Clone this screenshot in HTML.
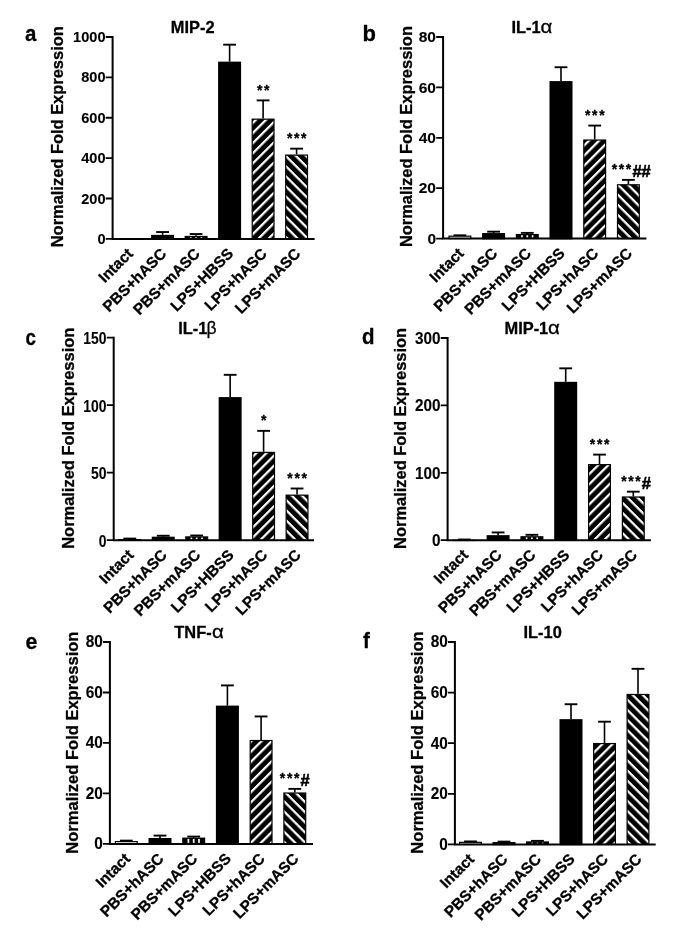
<!DOCTYPE html>
<html lang="en"><head><meta charset="utf-8"><title>Figure</title>
<style>html,body{margin:0;padding:0;background:#fff}svg{display:block}text{stroke:#000;stroke-width:.3px;stroke-linejoin:round}.t{stroke-width:.1px}.h{stroke-width:.6px}</style>
</head><body>
<svg width="685" height="944" viewBox="0 0 685 944" font-family='"Liberation Sans", sans-serif' font-weight="bold" fill="#000">
<defs>
<pattern id="hf" width="7.15" height="7.15" patternUnits="userSpaceOnUse" patternTransform="rotate(-45)"><rect width="7.15" height="7.15" fill="#000"/><rect y="0" width="7.15" height="2.25" fill="#fff"/></pattern>
<pattern id="hb" width="7.15" height="7.15" patternUnits="userSpaceOnUse" patternTransform="rotate(45)"><rect width="7.15" height="7.15" fill="#000"/><rect y="0" width="7.15" height="2.25" fill="#fff"/></pattern>
</defs>
<rect width="685" height="944" fill="#fff"/>
<g>
<text transform="translate(25 41) scale(0.93 1.04)" font-size="22">a</text>
<text x="170.8" y="32.6" font-size="16.4">MIP-2</text>
<text transform="translate(63.4 136.75) rotate(-90)" font-size="16.45" text-anchor="middle">Normalized Fold Expression</text>
<path d="M162.6 234.86V232.04" stroke="#000" stroke-width="1.6" fill="none"/><path d="M156.2 232.04H169" stroke="#000" stroke-width="1.9" fill="none"/>
<rect x="151.85" y="235.61" width="21.5" height="3.29" fill="#000" stroke="#000" stroke-width="1.5"/>
<path d="M196.1 235.87V234.05" stroke="#000" stroke-width="1.6" fill="none"/><path d="M189.7 234.05H202.5" stroke="#000" stroke-width="1.9" fill="none"/>
<rect x="184.6" y="235.87" width="23" height="3.03" fill="#000"/>
<rect x="189.95" y="237.17" width="1.7" height="0.73" fill="#fff"/>
<rect x="195.25" y="237.17" width="1.7" height="0.73" fill="#fff"/>
<rect x="200.55" y="237.17" width="1.7" height="0.73" fill="#fff"/>
<path d="M229.6 61.63V44.67" stroke="#000" stroke-width="1.6" fill="none"/><path d="M223.2 44.67H236" stroke="#000" stroke-width="1.9" fill="none"/>
<rect x="218.85" y="62.38" width="21.5" height="176.52" fill="#000" stroke="#000" stroke-width="1.5"/>
<path d="M263.1 118.57V100.4" stroke="#000" stroke-width="1.6" fill="none"/><path d="M256.7 100.4H269.5" stroke="#000" stroke-width="1.9" fill="none"/>
<rect x="252.2" y="119.17" width="21.8" height="119.73" fill="url(#hf)" stroke="#000" stroke-width="1.2"/>
<path d="M296.6 154.51V148.65" stroke="#000" stroke-width="1.6" fill="none"/><path d="M290.2 148.65H303" stroke="#000" stroke-width="1.9" fill="none"/>
<rect x="285.7" y="155.11" width="21.8" height="83.79" fill="url(#hb)" stroke="#000" stroke-width="1.2"/>
<text x="256.95" y="95" font-size="14" letter-spacing="1.65">**</text>
<text x="286.9" y="143.25" font-size="14" letter-spacing="1.65">***</text>
<path d="M112.6 37V238.9H313.6" stroke="#000" stroke-width="2" fill="none" stroke-linecap="square"/>
<text class="t" transform="translate(105.5 244) scale(0.94 1)" font-size="15.5" text-anchor="end">0</text>
<text class="t" transform="translate(105.5 203.62) scale(0.94 1)" font-size="15.5" text-anchor="end">200</text>
<text class="t" transform="translate(105.5 163.24) scale(0.94 1)" font-size="15.5" text-anchor="end">400</text>
<text class="t" transform="translate(105.5 122.86) scale(0.94 1)" font-size="15.5" text-anchor="end">600</text>
<text class="t" transform="translate(105.5 82.48) scale(0.94 1)" font-size="15.5" text-anchor="end">800</text>
<text class="t" transform="translate(105.5 42.1) scale(0.94 1)" font-size="15.5" text-anchor="end">1000</text>
<path d="M112.6 238.9H105.7M112.6 198.52H105.7M112.6 158.14H105.7M112.6 117.76H105.7M112.6 77.38H105.7M112.6 37H105.7" stroke="#000" stroke-width="1.8" fill="none"/>
<text transform="translate(133.8 254.6) rotate(-45)" font-size="15.35" text-anchor="end">Intact</text>
<text transform="translate(167.3 254.6) rotate(-45)" font-size="15.35" text-anchor="end">PBS+hASC</text>
<text transform="translate(200.8 254.6) rotate(-45)" font-size="15.35" text-anchor="end">PBS+mASC</text>
<text transform="translate(234.3 254.6) rotate(-45)" font-size="15.35" text-anchor="end">LPS+HBSS</text>
<text transform="translate(267.8 254.6) rotate(-45)" font-size="15.35" text-anchor="end">LPS+hASC</text>
<text transform="translate(301.3 254.6) rotate(-45)" font-size="15.35" text-anchor="end">LPS+mASC</text>
</g>
<g>
<text transform="translate(362.4 40.8) scale(1.0 1.04)" font-size="22">b</text>
<text x="511.5" y="32.6" font-size="16.4">IL-1</text>
<text transform="translate(540.5 32.6) scale(1.17 1)" font-weight="normal" font-size="17.5">α</text>
<text transform="translate(411.7 136.6) rotate(-90)" font-size="16.45" text-anchor="middle">Normalized Fold Expression</text>
<path d="M459.9 235.58V235.32" stroke="#000" stroke-width="1.6" fill="none"/><path d="M453.5 235.32H466.3" stroke="#000" stroke-width="1.9" fill="none"/>
<rect x="449" y="236.18" width="21.8" height="2.42" fill="#fff" stroke="#000" stroke-width="1.2"/>
<path d="M493.6 233.06V231.67" stroke="#000" stroke-width="1.6" fill="none"/><path d="M487.2 231.67H500" stroke="#000" stroke-width="1.9" fill="none"/>
<rect x="482.85" y="233.81" width="21.5" height="4.79" fill="#000" stroke="#000" stroke-width="1.5"/>
<path d="M527.3 233.94V232.88" stroke="#000" stroke-width="1.6" fill="none"/><path d="M520.9 232.88H533.7" stroke="#000" stroke-width="1.9" fill="none"/>
<rect x="515.8" y="233.94" width="23" height="4.66" fill="#000"/>
<rect x="521.15" y="235.24" width="1.7" height="2.36" fill="#fff"/>
<rect x="526.45" y="235.24" width="1.7" height="2.36" fill="#fff"/>
<rect x="531.75" y="235.24" width="1.7" height="2.36" fill="#fff"/>
<path d="M561 81.1V67.24" stroke="#000" stroke-width="1.6" fill="none"/><path d="M554.6 67.24H567.4" stroke="#000" stroke-width="1.9" fill="none"/>
<rect x="550.25" y="81.85" width="21.5" height="156.75" fill="#000" stroke="#000" stroke-width="1.5"/>
<path d="M594.7 139.44V125.58" stroke="#000" stroke-width="1.6" fill="none"/><path d="M588.3 125.58H601.1" stroke="#000" stroke-width="1.9" fill="none"/>
<rect x="583.8" y="140.04" width="21.8" height="98.56" fill="url(#hf)" stroke="#000" stroke-width="1.2"/>
<path d="M628.4 184.17V179.88" stroke="#000" stroke-width="1.6" fill="none"/><path d="M622 179.88H634.8" stroke="#000" stroke-width="1.9" fill="none"/>
<rect x="617.5" y="184.77" width="21.8" height="53.83" fill="url(#hb)" stroke="#000" stroke-width="1.2"/>
<text x="585" y="120.18" font-size="14" letter-spacing="1.65">***</text>
<text x="611.68" y="174.28" font-size="14" letter-spacing="1.65">***</text>
<text class="h" x="632.38" y="177.38" font-size="16.5">##</text>
<path d="M443.1 37V238.6H645.4" stroke="#000" stroke-width="2" fill="none" stroke-linecap="square"/>
<text class="t" transform="translate(436 243.7) scale(1.0 1)" font-size="15.5" text-anchor="end">0</text>
<text class="t" transform="translate(436 193.3) scale(1.0 1)" font-size="15.5" text-anchor="end">20</text>
<text class="t" transform="translate(436 142.9) scale(1.0 1)" font-size="15.5" text-anchor="end">40</text>
<text class="t" transform="translate(436 92.5) scale(1.0 1)" font-size="15.5" text-anchor="end">60</text>
<text class="t" transform="translate(436 42.1) scale(1.0 1)" font-size="15.5" text-anchor="end">80</text>
<path d="M443.1 238.6H436.2M443.1 188.2H436.2M443.1 137.8H436.2M443.1 87.4H436.2M443.1 37H436.2" stroke="#000" stroke-width="1.8" fill="none"/>
<text transform="translate(464.6 254.3) rotate(-45)" font-size="15.35" text-anchor="end">Intact</text>
<text transform="translate(498.3 254.3) rotate(-45)" font-size="15.35" text-anchor="end">PBS+hASC</text>
<text transform="translate(532 254.3) rotate(-45)" font-size="15.35" text-anchor="end">PBS+mASC</text>
<text transform="translate(565.7 254.3) rotate(-45)" font-size="15.35" text-anchor="end">LPS+HBSS</text>
<text transform="translate(599.4 254.3) rotate(-45)" font-size="15.35" text-anchor="end">LPS+hASC</text>
<text transform="translate(633.1 254.3) rotate(-45)" font-size="15.35" text-anchor="end">LPS+mASC</text>
</g>
<g>
<text transform="translate(25.6 344.6) scale(0.85 1.04)" font-size="22">c</text>
<text x="178.2" y="334" font-size="16.4">IL-1</text>
<text x="206.6" y="334" font-weight="normal" font-size="17.5">β</text>
<text transform="translate(74.2 438.25) rotate(-90)" font-size="16.45" text-anchor="middle">Normalized Fold Expression</text>
<path d="M129.8 538.99V538.58" stroke="#000" stroke-width="1.6" fill="none"/><path d="M123.4 538.58H136.2" stroke="#000" stroke-width="1.9" fill="none"/>
<rect x="118.9" y="539.59" width="21.8" height="0.62" fill="#fff" stroke="#000" stroke-width="1.2"/>
<path d="M163.25 536.69V535.75" stroke="#000" stroke-width="1.6" fill="none"/><path d="M156.85 535.75H169.65" stroke="#000" stroke-width="1.9" fill="none"/>
<rect x="152.5" y="537.44" width="21.5" height="2.76" fill="#000" stroke="#000" stroke-width="1.5"/>
<path d="M196.7 536.29V535.48" stroke="#000" stroke-width="1.6" fill="none"/><path d="M190.3 535.48H203.1" stroke="#000" stroke-width="1.9" fill="none"/>
<rect x="185.2" y="536.29" width="23" height="3.91" fill="#000"/>
<rect x="190.55" y="537.59" width="1.7" height="1.62" fill="#fff"/>
<rect x="195.85" y="537.59" width="1.7" height="1.62" fill="#fff"/>
<rect x="201.15" y="537.59" width="1.7" height="1.62" fill="#fff"/>
<path d="M230.15 397.1V374.83" stroke="#000" stroke-width="1.6" fill="none"/><path d="M223.75 374.83H236.55" stroke="#000" stroke-width="1.9" fill="none"/>
<rect x="219.4" y="397.85" width="21.5" height="142.35" fill="#000" stroke="#000" stroke-width="1.5"/>
<path d="M263.6 451.78V430.85" stroke="#000" stroke-width="1.6" fill="none"/><path d="M257.2 430.85H270" stroke="#000" stroke-width="1.9" fill="none"/>
<rect x="252.7" y="452.38" width="21.8" height="87.83" fill="url(#hf)" stroke="#000" stroke-width="1.2"/>
<path d="M297.05 494.57V488.5" stroke="#000" stroke-width="1.6" fill="none"/><path d="M290.65 488.5H303.45" stroke="#000" stroke-width="1.9" fill="none"/>
<rect x="286.15" y="495.17" width="21.8" height="45.03" fill="url(#hb)" stroke="#000" stroke-width="1.2"/>
<text x="261" y="425.45" font-size="14" letter-spacing="1.65">*</text>
<text x="287.35" y="483.1" font-size="14" letter-spacing="1.65">***</text>
<path d="M113.7 337.7V540.2H313" stroke="#000" stroke-width="2" fill="none" stroke-linecap="square"/>
<text class="t" transform="translate(106.6 546.6) scale(0.85 1)" font-size="16.4" text-anchor="end">0</text>
<text class="t" transform="translate(106.6 479.1) scale(0.85 1)" font-size="16.4" text-anchor="end">50</text>
<text class="t" transform="translate(106.6 411.6) scale(0.85 1)" font-size="16.4" text-anchor="end">100</text>
<text class="t" transform="translate(106.6 344.1) scale(0.85 1)" font-size="16.4" text-anchor="end">150</text>
<path d="M113.7 540.2H106.8M113.7 472.7H106.8M113.7 405.2H106.8M113.7 337.7H106.8" stroke="#000" stroke-width="1.8" fill="none"/>
<text transform="translate(134.5 555.9) rotate(-45)" font-size="15.35" text-anchor="end">Intact</text>
<text transform="translate(167.95 555.9) rotate(-45)" font-size="15.35" text-anchor="end">PBS+hASC</text>
<text transform="translate(201.4 555.9) rotate(-45)" font-size="15.35" text-anchor="end">PBS+mASC</text>
<text transform="translate(234.85 555.9) rotate(-45)" font-size="15.35" text-anchor="end">LPS+HBSS</text>
<text transform="translate(268.3 555.9) rotate(-45)" font-size="15.35" text-anchor="end">LPS+hASC</text>
<text transform="translate(301.75 555.9) rotate(-45)" font-size="15.35" text-anchor="end">LPS+mASC</text>
</g>
<g>
<text transform="translate(361.9 344.1) scale(0.93 1.04)" font-size="22">d</text>
<text x="504.5" y="334" font-size="16.4">MIP-1</text>
<text transform="translate(548 334) scale(1.17 1)" font-weight="normal" font-size="17.5">α</text>
<text transform="translate(406.4 438.4) rotate(-90)" font-size="16.45" text-anchor="middle">Normalized Fold Expression</text>
<path d="M464.3 539.8V539.53" stroke="#000" stroke-width="1.6" fill="none"/><path d="M457.9 539.53H470.7" stroke="#000" stroke-width="1.9" fill="none"/>
<rect x="453.4" y="540.4" width="21.8" height="0.1" fill="#fff" stroke="#000" stroke-width="1.2"/>
<path d="M498.1 535.15V532.45" stroke="#000" stroke-width="1.6" fill="none"/><path d="M491.7 532.45H504.5" stroke="#000" stroke-width="1.9" fill="none"/>
<rect x="487.35" y="535.9" width="21.5" height="4.3" fill="#000" stroke="#000" stroke-width="1.5"/>
<path d="M531.9 536.16V534.81" stroke="#000" stroke-width="1.6" fill="none"/><path d="M525.5 534.81H538.3" stroke="#000" stroke-width="1.9" fill="none"/>
<rect x="520.4" y="536.16" width="23" height="4.04" fill="#000"/>
<rect x="525.75" y="537.46" width="1.7" height="1.74" fill="#fff"/>
<rect x="531.05" y="537.46" width="1.7" height="1.74" fill="#fff"/>
<rect x="536.35" y="537.46" width="1.7" height="1.74" fill="#fff"/>
<path d="M565.7 381.81V368.33" stroke="#000" stroke-width="1.6" fill="none"/><path d="M559.3 368.33H572.1" stroke="#000" stroke-width="1.9" fill="none"/>
<rect x="554.95" y="382.56" width="21.5" height="157.64" fill="#000" stroke="#000" stroke-width="1.5"/>
<path d="M599.5 464.04V454.6" stroke="#000" stroke-width="1.6" fill="none"/><path d="M593.1 454.6H605.9" stroke="#000" stroke-width="1.9" fill="none"/>
<rect x="588.6" y="464.64" width="21.8" height="75.56" fill="url(#hf)" stroke="#000" stroke-width="1.2"/>
<path d="M633.3 496.39V491.67" stroke="#000" stroke-width="1.6" fill="none"/><path d="M626.9 491.67H639.7" stroke="#000" stroke-width="1.9" fill="none"/>
<rect x="622.4" y="496.99" width="21.8" height="43.21" fill="url(#hb)" stroke="#000" stroke-width="1.2"/>
<text x="589.8" y="449.2" font-size="14" letter-spacing="1.65">***</text>
<text x="621.16" y="486.07" font-size="14" letter-spacing="1.65">***</text>
<text class="h" x="641.86" y="489.17" font-size="16.5">#</text>
<path d="M447.6 338V540.2H649.9" stroke="#000" stroke-width="2" fill="none" stroke-linecap="square"/>
<text class="t" transform="translate(440.5 545.9) scale(0.935 1)" font-size="16.4" text-anchor="end">0</text>
<text class="t" transform="translate(440.5 478.5) scale(0.935 1)" font-size="16.4" text-anchor="end">100</text>
<text class="t" transform="translate(440.5 411.1) scale(0.935 1)" font-size="16.4" text-anchor="end">200</text>
<text class="t" transform="translate(440.5 343.7) scale(0.935 1)" font-size="16.4" text-anchor="end">300</text>
<path d="M447.6 540.2H440.7M447.6 472.8H440.7M447.6 405.4H440.7M447.6 338H440.7" stroke="#000" stroke-width="1.8" fill="none"/>
<text transform="translate(469 555.9) rotate(-45)" font-size="15.35" text-anchor="end">Intact</text>
<text transform="translate(502.8 555.9) rotate(-45)" font-size="15.35" text-anchor="end">PBS+hASC</text>
<text transform="translate(536.6 555.9) rotate(-45)" font-size="15.35" text-anchor="end">PBS+mASC</text>
<text transform="translate(570.4 555.9) rotate(-45)" font-size="15.35" text-anchor="end">LPS+HBSS</text>
<text transform="translate(604.2 555.9) rotate(-45)" font-size="15.35" text-anchor="end">LPS+hASC</text>
<text transform="translate(638 555.9) rotate(-45)" font-size="15.35" text-anchor="end">LPS+mASC</text>
</g>
<g>
<text transform="translate(25.5 648.9) scale(0.97 1.04)" font-size="22">e</text>
<text x="174.3" y="638" font-size="16.4">TNF-</text>
<text transform="translate(211.9 638) scale(1.17 1)" font-weight="normal" font-size="17.5">α</text>
<text transform="translate(77.5 742.6) rotate(-90)" font-size="16.53" text-anchor="middle">Normalized Fold Expression</text>
<path d="M126.3 841V840.62" stroke="#000" stroke-width="1.6" fill="none"/><path d="M119.9 840.62H132.7" stroke="#000" stroke-width="1.9" fill="none"/>
<rect x="115.4" y="841.6" width="21.8" height="2.3" fill="#fff" stroke="#000" stroke-width="1.2"/>
<path d="M160 837.97V835.57" stroke="#000" stroke-width="1.6" fill="none"/><path d="M153.6 835.57H166.4" stroke="#000" stroke-width="1.9" fill="none"/>
<rect x="149.25" y="838.72" width="21.5" height="5.18" fill="#000" stroke="#000" stroke-width="1.5"/>
<path d="M193.7 837.59V836.58" stroke="#000" stroke-width="1.6" fill="none"/><path d="M187.3 836.58H200.1" stroke="#000" stroke-width="1.9" fill="none"/>
<rect x="182.2" y="837.59" width="23" height="6.31" fill="#000"/>
<rect x="187.55" y="838.89" width="1.7" height="4.01" fill="#fff"/>
<rect x="192.85" y="838.89" width="1.7" height="4.01" fill="#fff"/>
<rect x="198.15" y="838.89" width="1.7" height="4.01" fill="#fff"/>
<path d="M227.4 705.6V685.41" stroke="#000" stroke-width="1.6" fill="none"/><path d="M221 685.41H233.8" stroke="#000" stroke-width="1.9" fill="none"/>
<rect x="216.65" y="706.35" width="21.5" height="137.55" fill="#000" stroke="#000" stroke-width="1.5"/>
<path d="M261.1 739.92V716.45" stroke="#000" stroke-width="1.6" fill="none"/><path d="M254.7 716.45H267.5" stroke="#000" stroke-width="1.9" fill="none"/>
<rect x="250.2" y="740.52" width="21.8" height="103.38" fill="url(#hf)" stroke="#000" stroke-width="1.2"/>
<path d="M294.8 792.42V788.88" stroke="#000" stroke-width="1.6" fill="none"/><path d="M288.4 788.88H301.2" stroke="#000" stroke-width="1.9" fill="none"/>
<rect x="283.9" y="793.02" width="21.8" height="50.88" fill="url(#hb)" stroke="#000" stroke-width="1.2"/>
<text x="279.86" y="783.28" font-size="14" letter-spacing="1.65">***</text>
<text class="h" x="300.56" y="786.38" font-size="16.5">#</text>
<path d="M109.9 642V843.9H312" stroke="#000" stroke-width="2" fill="none" stroke-linecap="square"/>
<text class="t" transform="translate(102.8 849.2) scale(0.97 1)" font-size="15.9" text-anchor="end">0</text>
<text class="t" transform="translate(102.8 798.72) scale(0.97 1)" font-size="15.9" text-anchor="end">20</text>
<text class="t" transform="translate(102.8 748.25) scale(0.97 1)" font-size="15.9" text-anchor="end">40</text>
<text class="t" transform="translate(102.8 697.77) scale(0.97 1)" font-size="15.9" text-anchor="end">60</text>
<text class="t" transform="translate(102.8 647.3) scale(0.97 1)" font-size="15.9" text-anchor="end">80</text>
<path d="M109.9 843.9H103M109.9 793.42H103M109.9 742.95H103M109.9 692.48H103M109.9 642H103" stroke="#000" stroke-width="1.8" fill="none"/>
<text transform="translate(131 859.6) rotate(-45)" font-size="15.35" text-anchor="end">Intact</text>
<text transform="translate(164.7 859.6) rotate(-45)" font-size="15.35" text-anchor="end">PBS+hASC</text>
<text transform="translate(198.4 859.6) rotate(-45)" font-size="15.35" text-anchor="end">PBS+mASC</text>
<text transform="translate(232.1 859.6) rotate(-45)" font-size="15.35" text-anchor="end">LPS+HBSS</text>
<text transform="translate(265.8 859.6) rotate(-45)" font-size="15.35" text-anchor="end">LPS+hASC</text>
<text transform="translate(299.5 859.6) rotate(-45)" font-size="15.35" text-anchor="end">LPS+mASC</text>
</g>
<g>
<text transform="translate(363 648.4) scale(0.93 1.04)" font-size="22">f</text>
<text x="523.5" y="638" font-size="16.4">IL-10</text>
<text transform="translate(423 742.5) rotate(-90)" font-size="16.54" text-anchor="middle">Normalized Fold Expression</text>
<path d="M470.5 841.74V841.44" stroke="#000" stroke-width="1.6" fill="none"/><path d="M464.1 841.44H476.9" stroke="#000" stroke-width="1.9" fill="none"/>
<rect x="459.6" y="842.34" width="21.8" height="2.06" fill="#fff" stroke="#000" stroke-width="1.2"/>
<path d="M504 842V841.62" stroke="#000" stroke-width="1.6" fill="none"/><path d="M497.6 841.62H510.4" stroke="#000" stroke-width="1.9" fill="none"/>
<rect x="493.25" y="842.75" width="21.5" height="1.65" fill="#000" stroke="#000" stroke-width="1.5"/>
<path d="M537.5 841.36V840.86" stroke="#000" stroke-width="1.6" fill="none"/><path d="M531.1 840.86H543.9" stroke="#000" stroke-width="1.9" fill="none"/>
<rect x="526" y="841.36" width="23" height="3.04" fill="#000"/>
<rect x="531.35" y="842.66" width="1.7" height="0.74" fill="#fff"/>
<rect x="536.65" y="842.66" width="1.7" height="0.74" fill="#fff"/>
<rect x="541.95" y="842.66" width="1.7" height="0.74" fill="#fff"/>
<path d="M571 719.16V704.24" stroke="#000" stroke-width="1.6" fill="none"/><path d="M564.6 704.24H577.4" stroke="#000" stroke-width="1.9" fill="none"/>
<rect x="560.25" y="719.91" width="21.5" height="124.49" fill="#000" stroke="#000" stroke-width="1.5"/>
<path d="M604.5 742.95V721.69" stroke="#000" stroke-width="1.6" fill="none"/><path d="M598.1 721.69H610.9" stroke="#000" stroke-width="1.9" fill="none"/>
<rect x="593.6" y="743.55" width="21.8" height="100.85" fill="url(#hf)" stroke="#000" stroke-width="1.2"/>
<path d="M638 693.87V668.82" stroke="#000" stroke-width="1.6" fill="none"/><path d="M631.6 668.82H644.4" stroke="#000" stroke-width="1.9" fill="none"/>
<rect x="627.1" y="694.47" width="21.8" height="149.93" fill="url(#hb)" stroke="#000" stroke-width="1.2"/>
<path d="M454.9 642V844.4H654.7" stroke="#000" stroke-width="2" fill="none" stroke-linecap="square"/>
<text class="t" transform="translate(447.8 849.7) scale(0.97 1)" font-size="15.9" text-anchor="end">0</text>
<text class="t" transform="translate(447.8 799.1) scale(0.97 1)" font-size="15.9" text-anchor="end">20</text>
<text class="t" transform="translate(447.8 748.5) scale(0.97 1)" font-size="15.9" text-anchor="end">40</text>
<text class="t" transform="translate(447.8 697.9) scale(0.97 1)" font-size="15.9" text-anchor="end">60</text>
<text class="t" transform="translate(447.8 647.3) scale(0.97 1)" font-size="15.9" text-anchor="end">80</text>
<path d="M454.9 844.4H448M454.9 793.8H448M454.9 743.2H448M454.9 692.6H448M454.9 642H448" stroke="#000" stroke-width="1.8" fill="none"/>
<text transform="translate(475.2 860.1) rotate(-45)" font-size="15.35" text-anchor="end">Intact</text>
<text transform="translate(508.7 860.1) rotate(-45)" font-size="15.35" text-anchor="end">PBS+hASC</text>
<text transform="translate(542.2 860.1) rotate(-45)" font-size="15.35" text-anchor="end">PBS+mASC</text>
<text transform="translate(575.7 860.1) rotate(-45)" font-size="15.35" text-anchor="end">LPS+HBSS</text>
<text transform="translate(609.2 860.1) rotate(-45)" font-size="15.35" text-anchor="end">LPS+hASC</text>
<text transform="translate(642.7 860.1) rotate(-45)" font-size="15.35" text-anchor="end">LPS+mASC</text>
</g>
</svg>
</body></html>
